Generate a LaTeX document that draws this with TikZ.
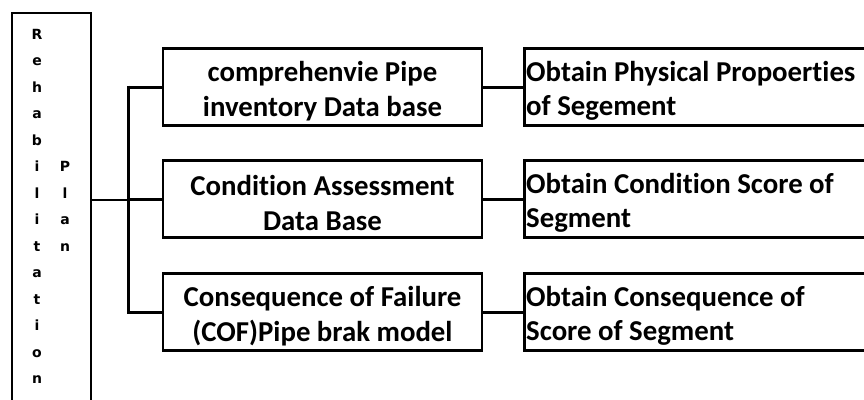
\documentclass[tikz,border=0pt]{standalone}
\usepackage{fontspec}
\setmainfont{Carlito}[Ligatures=NoCommon]
\newfontfamily\letterfont{DejaVu Sans}
\begin{document}
\begin{tikzpicture}[x=1pt,y=-1pt,
  box/.style={draw,line width=2.5pt,minimum width=319pt,minimum height=77pt,inner sep=0pt},
  rbox/.style={draw,line width=2.5pt,minimum width=350pt,minimum height=77pt,inner sep=0pt,anchor=west},
  mtext/.style={inner sep=0pt,align=center,font=\bfseries\fontsize{28.8}{35}\selectfont},
  rtext/.style={inner sep=0pt,anchor=west,align=left,font=\bfseries\fontsize{28.8}{34}\selectfont},
  tallbox/.style={draw,line width=2.5pt,minimum width=79pt,minimum height=400pt,inner sep=0pt},
  letters/.style={font=\letterfont\bfseries\fontsize{14}{26.5}\selectfont,align=center,inner sep=0pt,anchor=north},
  link/.style={line width=3pt}]
\useasboundingbox (0,0) rectangle (864,399);
\clip (0,0) rectangle (864,399);
\node[tallbox] (tall) at (51.5,213) {};
\node[letters] (rehab) at (37,29) {R\\e\\h\\a\\b\\i\\l\\i\\t\\a\\t\\i\\o\\n};
\node[letters] (plan) at (65,161.5) {P\\l\\a\\n};
\coordinate (j) at (128,200);
\node[box] (m1) at (322.5,87) {};
\node[box] (m2) at (322.5,199) {};
\node[box] (m3) at (322.5,312) {};
\node[mtext] (m1t) at ([yshift=-4pt]m1.center) {comprehenvie Pipe\\inventory Data base};
\node[mtext] (m2t) at ([yshift=-4pt]m2.center) {Condition Assessment\\Data Base};
\node[mtext] (m3t) at ([yshift=-4pt]m3.center) {Consequence of Failure\\(COF)Pipe brak model};
\node[rbox] (r1) at (523,87) {};
\node[rbox] (r2) at (523,199) {};
\node[rbox] (r3) at (523,312) {};
\node[rtext] (r1t) at ([xshift=3pt,yshift=-4pt]r1.west) {Obtain Physical Propoerties\\of Segement};
\node[rtext] (r2t) at ([xshift=3pt,yshift=-4pt]r2.west) {Obtain Condition Score of\\Segment};
\node[rtext] (r3t) at ([xshift=3pt,yshift=-4pt]r3.west) {Obtain Consequence of\\Score of Segment};
\draw[line width=2pt] (tall.east |- j) -- (j);
\draw[link] (j |- m1.west) -- (m1.west);
\draw[link] (j |- m2.west) -- (m2.west);
\draw[link] (j |- m3.west) -- (m3.west);
\draw[link] ([yshift=1.5pt]j |- m1.west) -- ([yshift=-1.5pt]j |- m3.west);
\draw[link] (m1.east) -- (r1.west);
\draw[link] (m2.east) -- (r2.west);
\draw[link] (m3.east) -- (r3.west);
\end{tikzpicture}
\end{document}
